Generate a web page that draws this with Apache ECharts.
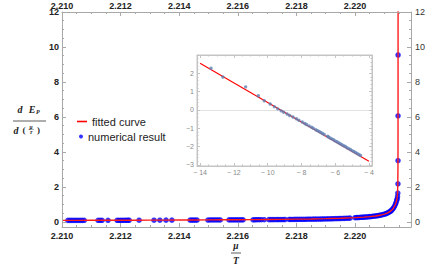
<!DOCTYPE html>
<html><head><meta charset="utf-8">
<script src="https://cdn.jsdelivr.net/npm/echarts@6/dist/echarts.min.js"></script>
<style>html,body{margin:0;padding:0;background:#fff}#c{width:436px;height:270px}</style>
</head><body><div id="c"></div>
<script>
// ---- data ----
const mainXTicks = [2.210, 2.212, 2.214, 2.216, 2.218, 2.220];
const mainYTicks = [0, 2, 4, 6, 8, 10, 12];
const insetXTicks = [-14, -12, -10, -8, -6, -4];
const insetYTicks = [-3, -2, -1, 0, 1, 2];

const numericalResult = [
  [2.2102,0.08],[2.21027,0.08],[2.21034,0.08],[2.21041,0.08],[2.21048,0.08],[2.21055,0.08],[2.21062,0.08],[2.21069,0.08],[2.21076,0.081],
  [2.21123,0.082],[2.2113,0.082],[2.21137,0.082],[2.21157,0.083],
  [2.21188,0.084],[2.21194,0.084],[2.212,0.085],[2.21206,0.085],[2.21212,0.085],[2.21218,0.085],[2.21224,0.086],[2.21229,0.086],
  [2.21263,0.087],
  [2.21314,0.09],[2.21334,0.091],[2.21355,0.092],[2.21375,0.093],
  [2.21437,0.096],[2.21443,0.097],[2.21449,0.097],[2.21455,0.097],[2.21461,0.098],
  [2.21498,0.1],[2.21505,0.101],[2.21512,0.101],[2.21519,0.102],[2.21526,0.102],[2.21533,0.103],[2.2154,0.103],
  [2.2157,0.106],[2.21577,0.107],[2.21584,0.107],[2.21591,0.108],[2.21598,0.109],[2.21605,0.109],[2.21612,0.11],[2.21618,0.11],
  [2.21652,0.114],[2.21659,0.115],[2.21666,0.116],[2.21673,0.117],[2.2168,0.118],[2.2169,0.119],
  [2.21706,0.121],[2.21713,0.122],[2.2172,0.123],[2.21727,0.124],[2.21734,0.125],[2.2174,0.126],[2.21747,0.127],[2.21754,0.128],[2.21761,0.129],
  [2.21775,0.131],[2.21781,0.132],[2.21788,0.134],
  [2.21795,0.135],[2.21802,0.136],[2.21809,0.138],[2.21816,0.139],[2.21823,0.141],[2.2183,0.142],[2.21837,0.144],[2.21844,0.146],[2.21851,0.148],[2.21858,0.15],[2.21865,0.152],[2.21872,0.154],[2.21879,0.156],[2.21886,0.158],[2.21893,0.16],[2.219,0.163],[2.21907,0.166],[2.21914,0.169],[2.21921,0.172],[2.21928,0.175],[2.21935,0.178],[2.21942,0.182],[2.21949,0.186],[2.21956,0.19],[2.21963,0.194],[2.2197,0.199],[2.21977,0.204],[2.21983,0.209],
  [2.22,0.234],[2.22005,0.238],[2.2201,0.243],[2.22015,0.248],[2.2202,0.253],[2.22025,0.258],[2.2203,0.264],[2.22035,0.27],[2.2204,0.277],[2.22045,0.284],[2.2205,0.292],[2.22055,0.3],[2.2206,0.31],[2.22065,0.32],[2.2207,0.331],[2.22075,0.343],[2.2208,0.357],[2.22085,0.372],[2.2209,0.39],[2.22095,0.41],[2.221,0.433],[2.22104,0.455],[2.22108,0.48],[2.22112,0.51],[2.22116,0.545],[2.2212,0.59],[2.22123,0.63],[2.22126,0.68],[2.22129,0.74],[2.22132,0.81],[2.22135,0.9],[2.22138,1.01],[2.2214,1.1],[2.22142,1.22],[2.22144,1.31],[2.22145,1.45],[2.22146,1.64],[2.221465,2.17],[2.221467,3.5],[2.221468,6.06],[2.221469,9.54]
];

const fittedCurve = [
  [2.21,0.078],[2.2105,0.08],[2.211,0.082],[2.2115,0.084],[2.212,0.0865],[2.2125,0.089],[2.213,0.092],[2.2135,0.095],[2.214,0.098],[2.2145,0.102],[2.215,0.106],[2.2155,0.111],[2.216,0.116],[2.2165,0.122],[2.217,0.129],[2.2175,0.137],[2.218,0.148],[2.2185,0.16],[2.219,0.177],[2.2195,0.2],[2.22,0.234],[2.2203,0.264],[2.2205,0.292],[2.2207,0.331],[2.2209,0.39],[2.221,0.433],[2.2211,0.49],[2.2212,0.59],[2.2213,0.75],[2.22135,0.9],[2.2214,1.1],[2.22143,1.3],[2.22145,1.6],[2.22146,2.2],[2.221465,3.2],[2.221467,4.9],[2.221468,7.0],[2.221469,11.0],[2.2214695,14]
];

const insetPoints = [
  [-13.35,2.28],[-12.65,1.8],[-11.3,1.26],[-10.55,0.78],[-10.2,0.5],[-9.85,0.32],[-9.6,0.18],[-9.4,0.06],[-9.2,-0.05],[-9.05,-0.13],
  [-8.85,-0.22],[-8.7,-0.3],[-8.5,-0.38],[-8.3,-0.48],[-8.15,-0.56],[-7.95,-0.66],[-7.8,-0.74],[-7.7,-0.79],[-7.55,-0.87],[-7.4,-0.94],
  [-7.3,-1.0],[-7.15,-1.08],[-7.05,-1.13],[-6.95,-1.18],[-6.85,-1.23],[-6.75,-1.29],[-6.65,-1.34],[-6.45,-1.44],[-6.4,-1.48],[-6.3,-1.53],
  [-6.2,-1.58],[-6.1,-1.63],[-6.0,-1.69],[-5.9,-1.74],[-5.8,-1.79],[-5.7,-1.85],[-5.6,-1.9],[-5.5,-1.95],[-5.4,-2.0],[-5.3,-2.06],
  [-5.2,-2.11],[-5.1,-2.16],[-5.0,-2.22],[-4.9,-2.27],[-4.8,-2.32],[-4.7,-2.38],[-4.6,-2.43],[-4.5,-2.49]
];
const insetFitLine = [[-14, 2.55], [-4, -2.8]];

// ---- helpers ----
function minorTicks(lo, hi, step, majors) {
  const out = [];
  const n = Math.round((hi - lo) / step);
  for (let i = 0; i <= n; i++) {
    const v = Math.round((lo + i * step) * 1e7) / 1e7;
    if (!majors.some(m => Math.abs(m - v) < step / 10)) out.push(v);
  }
  return out;
}
const FRAME = '#a8a8a8';
const INSET_FRAME = '#c4c4c4';

function axis(o) {
  return {
    type: 'value', gridIndex: o.grid, position: o.pos, min: o.min, max: o.max, z: 6,
    axisLine: { show: o.line !== false, onZero: false, lineStyle: { color: o.lineColor || FRAME, width: 1 } },
    axisTick: { show: true, inside: true, length: o.len || 4, customValues: o.ticks, lineStyle: { color: o.lineColor || FRAME, width: 1 } },
    axisLabel: o.labels ? Object.assign({ show: true, customValues: o.ticks }, o.labels) : { show: false },
    splitLine: { show: false }, minorTick: { show: false }
  };
}

const mainXMinor = minorTicks(2.210, 2.2215, 0.0005, mainXTicks);
const mainYMinor = minorTicks(0, 12, 0.5, mainYTicks);
const insetXMinor = minorTicks(-14, -4, 0.5, insetXTicks);
const insetYMinor = minorTicks(-3, 2.8, 0.2, insetYTicks);

const boldLab = { fontSize: 9, fontWeight: 'bold', color: '#222', fontFamily: 'Liberation Sans, Arial, sans-serif' };
const X = { min: 2.210, max: 2.22191 };
const Y = { min: -0.3, max: 12 };
const IX = { min: -14.18, max: -3.82 };
const IY = { min: -3.06, max: 3.0 };
const insetLab = { fontSize: 7, color: '#8a8a8a', fontFamily: 'Liberation Sans, Arial, sans-serif' };

const xAxes = [
  axis(Object.assign({ grid: 0, pos: 'bottom', ticks: mainXTicks, labels: Object.assign({ margin: 4, formatter: v => v.toFixed(3) }, boldLab) }, X)),
  axis(Object.assign({ grid: 0, pos: 'top', ticks: mainXTicks, labels: Object.assign({ margin: 2, formatter: v => v.toFixed(3) }, boldLab) }, X)),
  axis(Object.assign({ grid: 0, pos: 'bottom', ticks: mainXMinor, len: 2, line: false }, X)),
  axis(Object.assign({ grid: 0, pos: 'top', ticks: mainXMinor, len: 2, line: false }, X)),
  axis(Object.assign({ grid: 1, pos: 'bottom', ticks: insetXTicks, lineColor: INSET_FRAME, len: 3, labels: Object.assign({ margin: 3, formatter: v => (v < 0 ? '\u2212 ' + Math.abs(v) : String(v)) }, insetLab) }, IX)),
  axis(Object.assign({ grid: 1, pos: 'top', ticks: insetXTicks, lineColor: INSET_FRAME, len: 3 }, IX)),
  axis(Object.assign({ grid: 1, pos: 'bottom', ticks: insetXMinor, lineColor: INSET_FRAME, len: 1.5, line: false }, IX)),
  axis(Object.assign({ grid: 1, pos: 'top', ticks: insetXMinor, lineColor: INSET_FRAME, len: 1.5, line: false }, IX))
];
const yAxes = [
  axis(Object.assign({ grid: 0, pos: 'left', ticks: mainYTicks, labels: Object.assign({ margin: 3 }, boldLab) }, Y)),
  axis(Object.assign({ grid: 0, pos: 'right', ticks: mainYTicks, labels: { margin: 4, fontSize: 9, color: '#333', fontFamily: 'Liberation Sans, Arial, sans-serif' } }, Y)),
  axis(Object.assign({ grid: 0, pos: 'left', ticks: mainYMinor, len: 2, line: false }, Y)),
  axis(Object.assign({ grid: 0, pos: 'right', ticks: mainYMinor, len: 2, line: false }, Y)),
  axis(Object.assign({ grid: 1, pos: 'left', ticks: insetYTicks, lineColor: INSET_FRAME, len: 3, labels: Object.assign({ margin: 3, formatter: v => (v < 0 ? '\u2212' + Math.abs(v) : String(v)) }, insetLab) }, IY)),
  axis(Object.assign({ grid: 1, pos: 'right', ticks: insetYTicks, lineColor: INSET_FRAME, len: 3 }, IY)),
  axis(Object.assign({ grid: 1, pos: 'left', ticks: insetYMinor, lineColor: INSET_FRAME, len: 1.5, line: false }, IY)),
  axis(Object.assign({ grid: 1, pos: 'right', ticks: insetYMinor, lineColor: INSET_FRAME, len: 1.5, line: false }, IY))
];

const serifBI = { fontFamily: 'Liberation Serif, DejaVu Serif, serif', fontStyle: 'italic', fontWeight: 'bold', fill: '#222' };
function txt(t, x, y, size, extra) {
  return { type: 'text', x: x, y: y, silent: true, z: 50,
    style: Object.assign({ text: t, fontSize: size, align: 'center', verticalAlign: 'middle' }, serifBI, extra || {}) };
}
function hline(x1, x2, y, w) {
  return { type: 'line', silent: true, z: 50, shape: { x1: x1, y1: y, x2: x2, y2: y }, style: { stroke: '#333', lineWidth: w || 0.8 } };
}

const legendText = { fontSize: 11, color: '#222', fontFamily: 'Liberation Sans, Arial, sans-serif' };
const chart = echarts.init(document.getElementById('c'), null, { renderer: 'svg' });
chart.setOption({
  animation: false,
  backgroundColor: '#fff',
  grid: [
    { left: 62, top: 12, width: 349, height: 215, containLabel: false },
    { left: 197, top: 55, width: 175, height: 111, show: true, backgroundColor: '#fff', borderColor: INSET_FRAME, borderWidth: 1 }
  ],
  xAxis: xAxes,
  yAxis: yAxes,
  legend: [
    { data: ['fitted curve'], left: 77, top: 116, padding: 0, orient: 'vertical', icon: 'rect', itemWidth: 10, itemHeight: 1.6, itemGap: 0,
      textStyle: legendText },
    { data: ['numerical result'], left: 79, top: 131, padding: 0, orient: 'vertical', icon: 'circle', itemWidth: 4, itemHeight: 4, itemGap: 0,
      textStyle: legendText }
  ],
  series: [
    { name: 'numerical result', type: 'scatter', xAxisIndex: 0, yAxisIndex: 0, data: numericalResult,
      symbolSize: 5.5, itemStyle: { color: '#0000ff' }, z: 2, silent: true },
    { name: 'fitted curve', type: 'line', xAxisIndex: 0, yAxisIndex: 0, data: fittedCurve, symbol: 'none', smooth: false,
      lineStyle: { color: '#ff1a1a', width: 1.4 }, itemStyle: { color: '#ff0000' }, z: 3, clip: true, silent: true },
    { name: 'inset fit', type: 'line', xAxisIndex: 4, yAxisIndex: 4, data: insetFitLine, symbol: 'none',
      lineStyle: { color: '#ff0000', width: 1.1 }, z: 7, silent: true,
      markLine: { silent: true, symbol: 'none', label: { show: false }, lineStyle: { color: '#e2e2e2', width: 1, type: 'solid' },
        data: [{ yAxis: 0 }], animation: false } },
    { name: 'inset points', type: 'scatter', xAxisIndex: 4, yAxisIndex: 4, data: insetPoints, symbolSize: 3.4,
      itemStyle: { color: '#5e81b5' }, z: 8, silent: true }
  ],
  graphic: [
    txt('d', 20, 109, 10), txt('E', 32, 109, 10), txt('P', 37.8, 111.5, 6),
    hline(13, 46, 121, 0.8),
    txt('d', 16, 130, 10), txt('(', 24, 130, 9, { fontStyle: 'normal' }), txt(')', 38.5, 130, 9, { fontStyle: 'normal' }),
    txt('\u03bc', 31, 127, 5.5), hline(28.5, 34, 129.5, 0.4), txt('T', 31, 132.5, 5),
    txt('\u03bc', 236, 246, 9.5), hline(231, 241, 253, 0.8), txt('T', 236, 261, 9.5)
  ]
});
</script></body></html>
